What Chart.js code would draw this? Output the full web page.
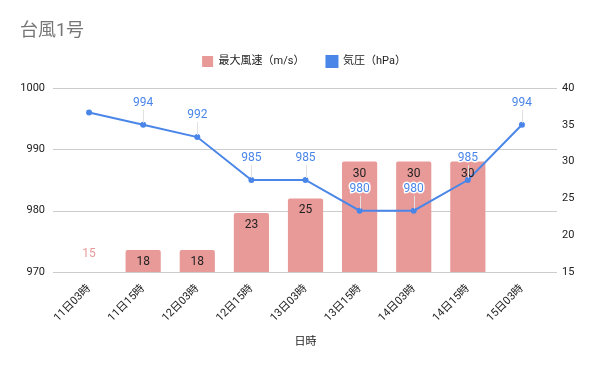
<!DOCTYPE html>
<html>
<head>
<meta charset="utf-8">
<script src="https://cdn.jsdelivr.net/npm/chart.js@4"></script>
<style>
  html, body { margin: 0; padding: 0; background: #fff; }
  #wrap { width: 600px; height: 371px; }
</style>
</head>
<body>
<div id="wrap"><canvas id="chart"></canvas></div>
<script>
// Data
const categories = ["11日03時", "11日15時", "12日03時", "12日15時", "13日03時", "13日15時", "14日03時", "14日15時", "15日03時"];
const windSpeed = [15, 18, 18, 23, 25, 30, 30, 30, null];
const pressure = [996, 994, 992, 985, 985, 980, 980, 985, 994];
const pressureTicks = [970, 980, 990, 1000];
const windTicks = [15, 20, 25, 30, 35, 40];

const FONT = "Roboto, 'Noto Sans CJK JP', sans-serif";
const BAR_COLOR = '#e89a98';
const LINE_COLOR = '#4a86e8';
const GRID_COLOR = '#cccccc';

// horizontal gridlines, a bit wider than the category area
const gridPlugin = {
  id: 'wideGrid',
  beforeDatasetsDraw(chart) {
    const { ctx, chartArea } = chart;
    const y = chart.scales.y;
    ctx.save();
    ctx.strokeStyle = GRID_COLOR;
    ctx.lineWidth = 1;
    y.ticks.forEach(t => {
      const py = Math.round(y.getPixelForValue(t.value)) + 0.5;
      ctx.beginPath();
      ctx.moveTo(chartArea.left - 9, py);
      ctx.lineTo(chartArea.right + 8, py);
      ctx.stroke();
    });
    ctx.restore();
  }
};

// value labels for bars and line points
const labelPlugin = {
  id: 'valueLabels',
  afterDatasetsDraw(chart) {
    const { ctx } = chart;
    const y1 = chart.scales.y1;
    const base = y1.getPixelForValue(y1.min);
    ctx.save();
    ctx.font = '12px ' + FONT;
    ctx.textAlign = 'center';
    ctx.textBaseline = 'middle';

    const barMeta = chart.getDatasetMeta(0);
    barMeta.data.forEach((bar, i) => {
      const v = windSpeed[i];
      if (v === null) return;
      const top = y1.getPixelForValue(v);
      if (base - top < 16) {
        ctx.fillStyle = BAR_COLOR;
        ctx.fillText(String(v), bar.x, base - 18);
      } else {
        ctx.fillStyle = '#222';
        ctx.fillText(String(v), bar.x, top + 12);
      }
    });

    const lineMeta = chart.getDatasetMeta(1);
    lineMeta.data.forEach((pt, i) => {
      if (i === 0) return; // label not shown in the original
      const ly = pt.y - 22;
      ctx.strokeStyle = '#e0e0e0';
      ctx.lineWidth = 1;
      ctx.beginPath();
      ctx.moveTo(Math.round(pt.x) + 0.5, ly + 7);
      ctx.lineTo(Math.round(pt.x) + 0.5, pt.y - 2);
      ctx.stroke();
      ctx.strokeStyle = '#fff';
      ctx.lineWidth = 3;
      ctx.lineJoin = 'round';
      ctx.strokeText(String(pressure[i]), pt.x, ly);
      ctx.fillStyle = LINE_COLOR;
      ctx.fillText(String(pressure[i]), pt.x, ly);
    });
    ctx.restore();
  }
};

new Chart(document.getElementById('chart'), {
  data: {
    labels: categories,
    datasets: [{
      type: 'bar',
      label: '最大風速（m/s）',
      data: windSpeed,
      yAxisID: 'y1',
      backgroundColor: BAR_COLOR,
      borderWidth: 0,
      borderRadius: 2,
      borderSkipped: 'bottom',
      categoryPercentage: 1,
      barPercentage: 0.65,
      order: 1
    }, {
      type: 'line',
      label: '気圧（hPa）',
      data: pressure,
      yAxisID: 'y',
      borderColor: LINE_COLOR,
      backgroundColor: LINE_COLOR,
      borderWidth: 2,
      pointRadius: 2,
      pointHoverRadius: 3,
      tension: 0,
      order: 0
    }]
  },
  options: {
    responsive: true,
    maintainAspectRatio: false,
    animation: false,
    layout: { padding: { left: 20, right: 12, top: 0, bottom: 0 } },
    plugins: {
      title: {
        display: true,
        text: '台風1号',
        align: 'start',
        color: '#757575',
        font: { family: FONT, size: 18, weight: 'normal', lineHeight: '6px' },
        padding: { top: 28, bottom: 0 }
      },
      legend: {
        display: true,
        position: 'top',
        labels: {
          boxWidth: 11,
          boxHeight: 11,
          padding: 22,
          color: '#222',
          font: { family: FONT, size: 11 },
          sort: (a, b) => a.datasetIndex - b.datasetIndex
        }
      },
      tooltip: { enabled: true }
    },
    scales: {
      x: {
        offset: true,
        grid: { display: false },
        border: { display: false },
        ticks: {
          color: '#222',
          padding: 2,
          font: { family: FONT, size: 11 },
          minRotation: 45,
          maxRotation: 45,
          autoSkip: false
        },
        title: {
          display: true,
          text: '日時',
          color: '#222',
          font: { family: FONT, size: 11 },
          padding: { top: 4, bottom: 22 }
        },
        afterFit(scale) { scale.height = 99; }
      },
      // empty top axis, only used as space between legend and plot
      xTop: {
        type: 'category',
        position: 'top',
        grid: { display: false, drawTicks: false },
        border: { display: false },
        ticks: { display: false },
        afterFit(scale) { scale.height = 11; }
      },
      y: {
        position: 'left',
        min: 970,
        max: 1000,
        afterBuildTicks(scale) { scale.ticks = pressureTicks.map(v => ({ value: v })); },
        grid: { display: false, drawTicks: false },
        border: { display: false },
        ticks: { color: '#222', padding: 17, font: { family: FONT, size: 11 }, callback: v => String(v) },
        afterFit(scale) { scale.width = 42; }
      },
      y1: {
        position: 'right',
        min: 15,
        max: 40,
        afterBuildTicks(scale) { scale.ticks = windTicks.map(v => ({ value: v })); },
        grid: { display: false, drawTicks: false },
        border: { display: false },
        ticks: { color: '#222', padding: 13, font: { family: FONT, size: 11 }, callback: v => String(v) },
        afterFit(scale) { scale.width = 39; }
      }
    }
  },
  plugins: [gridPlugin, labelPlugin]
});
</script>
</body>
</html>
